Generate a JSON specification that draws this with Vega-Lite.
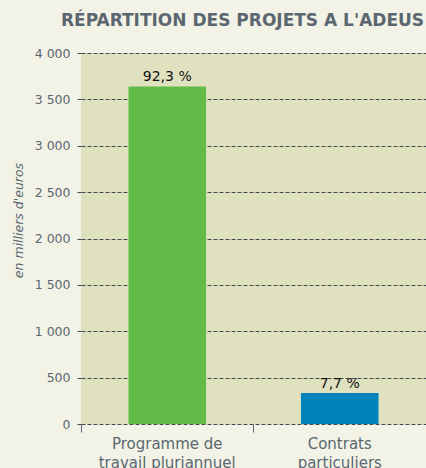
{
  "$schema": "https://vega.github.io/schema/vega-lite/v6.json",
  "width": 345,
  "height": 371,
  "autosize": "none",
  "padding": {"left": 81, "top": 53, "right": 0, "bottom": 44},
  "background": "#f2f3e6",
  "config": {"view": {"fill": "#e0e1bf", "stroke": null}, "font": "DejaVu Sans"},
  "title": {
    "text": "RÉPARTITION DES PROJETS A L'ADEUS",
    "anchor": "middle",
    "font": "DejaVu Sans",
    "fontSize": 17,
    "fontWeight": "bold",
    "color": "#5b6770",
    "dx": -11,
    "baseline": "alphabetic",
    "offset": 4
  },
  "data": {
    "values": [
      {"categorie": "Programme de|travail pluriannuel", "montant": 3640, "part": "92,3 %"},
      {"categorie": "Contrats|particuliers", "montant": 334, "part": "7,7 %"}
    ]
  },
  "encoding": {
    "x": {
      "field": "categorie",
      "type": "nominal",
      "sort": null,
      "scale": {"paddingInner": 0, "paddingOuter": 0},
      "axis": {
        "title": null,
        "labelAngle": 0,
        "labelExpr": "split(datum.label, '|')",
        "labelFont": "DejaVu Sans",
        "labelFontSize": 15,
        "labelColor": "#5b6770",
        "labelLineHeight": 19,
        "labelPadding": 4,
        "labelBaseline": "top",
        "bandPosition": 0,
        "tickSize": 8,
        "tickColor": "#5b6770",
        "domain": false,
        "grid": false
      }
    },
    "y": {
      "field": "montant",
      "type": "quantitative",
      "scale": {"domain": [0, 4000], "nice": false},
      "axis": {
        "title": "en milliers d'euros",
        "titleFont": "DejaVu Sans",
        "titleFontStyle": "italic",
        "titleFontWeight": "normal",
        "titleFontSize": 12.5,
        "titleColor": "#5b6770",
        "titleX": -59,
        "titleY": 167,
        "titleAlign": "center",
        "titleBaseline": "alphabetic",
        "titleAngle": -90,
        "values": [0, 500, 1000, 1500, 2000, 2500, 3000, 3500, 4000],
        "labelExpr": "replace(format(datum.value, ',d'), ',', ' ')",
        "labelFont": "DejaVu Sans",
        "labelFontSize": 12.5,
        "labelColor": "#5b6770",
        "labelPadding": 5,
        "tickSize": 6,
        "tickColor": "#3d4a50",
        "tickDash": [4, 2],
        "grid": true,
        "gridColor": "#3d4a50",
        "gridDash": [4, 2],
        "gridOpacity": 1,
        "domain": false
      }
    }
  },
  "layer": [
    {
      "mark": {"type": "bar", "width": {"band": 0.45}},
      "encoding": {
        "color": {
          "field": "categorie",
          "type": "nominal",
          "scale": {"domain": ["Programme de|travail pluriannuel", "Contrats|particuliers"], "range": ["#62bb47", "#0083ba"]},
          "legend": null
        }
      }
    },
    {
      "mark": {"type": "text", "baseline": "alphabetic", "dy": -5, "fontSize": 14, "font": "DejaVu Sans", "color": "#111111"},
      "encoding": {"text": {"field": "part"}}
    }
  ]
}
